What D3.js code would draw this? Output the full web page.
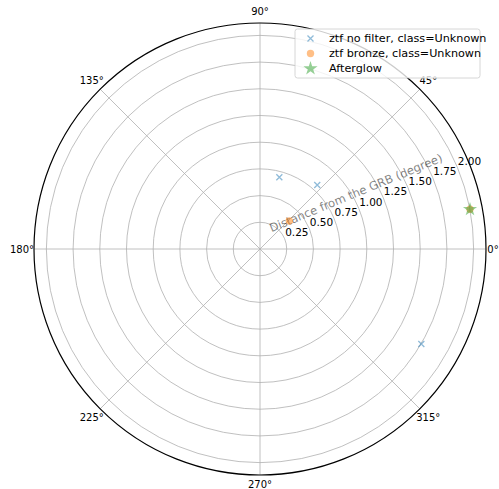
<!DOCTYPE html>
<html>
<head>
<meta charset="utf-8">
<script src="https://cdn.jsdelivr.net/npm/d3@7"></script>
<style>
  html, body { margin: 0; padding: 0; background: #fff; }
  svg { display: block; }
  text { font-family: "DejaVu Sans", sans-serif; }
</style>
</head>
<body>
<div id="chart"></div>
<script>
// ---- data ----
const noFilterTheta = [74.9, 48.2, 329.5];
const noFilterR = [0.695, 0.804, 1.753];
const bronzeTheta = [43.7, 10.7];
const bronzeR = [0.379, 2.001];
const afterglowTheta = [10.7];
const afterglowR = [2.001];
const radialTicks = [0.25, 0.5, 0.75, 1.0, 1.25, 1.5, 1.75, 2.0];
const angleTicks = [0, 45, 90, 135, 180, 225, 270, 315];
const legendLabels = ["ztf no filter, class=Unknown", "ztf bronze, class=Unknown", "Afterglow"];
const radialTitle = "Distance from the GRB (degree)";
const rMax = 2.116;

// ---- layout ----
const W = 499, H = 489;
const cx = 260, cy = 249, R = 226;

const svg = d3.select("#chart").append("svg").attr("width", W).attr("height", H);
const r = d3.scaleLinear().domain([0, rMax]).range([0, R]);
const toRad = d => d * Math.PI / 180;
const px = (t, rv) => cx + r(rv) * Math.cos(toRad(t));
const py = (t, rv) => cy - r(rv) * Math.sin(toRad(t));

const g = svg.append("g");
// ring grid
g.selectAll("circle.ring").data(radialTicks).enter().append("circle")
  .attr("cx", cx).attr("cy", cy).attr("r", d => r(d))
  .attr("fill", "none").attr("stroke", "#b0b0b0").attr("stroke-width", 0.8);
// angular grid
g.selectAll("line.spoke").data(angleTicks).enter().append("line")
  .attr("x1", cx).attr("y1", cy)
  .attr("x2", d => px(d, rMax)).attr("y2", d => py(d, rMax))
  .attr("stroke", "#b0b0b0").attr("stroke-width", 0.8);
// outer frame
g.append("circle").attr("cx", cx).attr("cy", cy).attr("r", R)
  .attr("fill", "none").attr("stroke", "#000").attr("stroke-width", 1.2);

// angle labels
const angOffset = d => (d === 0 ? 7 : d === 270 ? 9.5 : 12);
g.selectAll("text.ang").data(angleTicks).enter().append("text")
  .attr("x", d => cx + (R + angOffset(d)) * Math.cos(toRad(d)))
  .attr("y", d => cy - (R + angOffset(d)) * Math.sin(toRad(d)))
  .attr("text-anchor", "middle").attr("dominant-baseline", "central")
  .attr("font-size", "10px").attr("fill", "#000")
  .text(d => d + "°");

// radial labels at 22.5°
g.selectAll("text.rad").data(radialTicks).enter().append("text")
  .attr("x", d => px(22.5, d) + 0.5)
  .attr("y", d => py(22.5, d) - 2.5)
  .attr("text-anchor", "start")
  .attr("font-size", "10.5px").attr("fill", "#000")
  .text(d => d3.format(".2f")(d));

// radial title
const tAlong = 110, tOff = 15;
const tx = cx + tAlong * Math.cos(toRad(22.5)) - tOff * Math.sin(toRad(22.5));
const ty = cy - tAlong * Math.sin(toRad(22.5)) - tOff * Math.cos(toRad(22.5));
g.append("text")
  .attr("transform", `translate(${tx},${ty}) rotate(-22.5)`)
  .attr("text-anchor", "middle").attr("dominant-baseline", "central")
  .attr("font-size", "11.6px").attr("fill", "#000").attr("fill-opacity", 0.5)
  .text(radialTitle);

// markers
const blue = "#1f77b4", orange = "#ff7f0e", green = "#2ca02c";
const crossPath = s => `M${-s},${-s}L${s},${s}M${-s},${s}L${s},${-s}`;
const starSym = d3.symbol().type(d3.symbolStar).size(62);

const nf = noFilterTheta.map((t, i) => [t, noFilterR[i]]);
g.selectAll("path.nf").data(nf).enter().append("path")
  .attr("transform", d => `translate(${px(d[0], d[1])},${py(d[0], d[1])})`)
  .attr("d", crossPath(3))
  .attr("stroke", blue).attr("stroke-opacity", 0.5).attr("stroke-width", 1.3).attr("fill", "none");

const br = bronzeTheta.map((t, i) => [t, bronzeR[i]]);
g.selectAll("circle.br").data(br).enter().append("circle")
  .attr("cx", d => px(d[0], d[1])).attr("cy", d => py(d[0], d[1])).attr("r", 3.7)
  .attr("fill", orange).attr("fill-opacity", 0.5);

const ag = afterglowTheta.map((t, i) => [t, afterglowR[i]]);
g.selectAll("path.ag").data(ag).enter().append("path")
  .attr("transform", d => `translate(${px(d[0], d[1])},${py(d[0], d[1])})`)
  .attr("d", starSym)
  .attr("fill", green).attr("fill-opacity", 0.5);

// legend
const lg = svg.append("g").attr("transform", "translate(295,29)");
lg.append("rect").attr("x", 0).attr("y", 0).attr("width", 185).attr("height", 49)
  .attr("rx", 2.5).attr("fill", "#fff").attr("fill-opacity", 0.8)
  .attr("stroke", "#cccccc").attr("stroke-width", 0.8);
const rowsY = [9.5, 24.5, 39.5];
legendLabels.forEach((lab, i) => {
  const mx = 15.5, my = rowsY[i];
  if (i === 0) {
    lg.append("path").attr("transform", `translate(${mx},${my})`).attr("d", crossPath(3))
      .attr("stroke", blue).attr("stroke-opacity", 0.5).attr("stroke-width", 1.3).attr("fill", "none");
  } else if (i === 1) {
    lg.append("circle").attr("cx", mx).attr("cy", my).attr("r", 3.7)
      .attr("fill", orange).attr("fill-opacity", 0.5);
  } else {
    lg.append("path").attr("transform", `translate(${mx},${my})`).attr("d", starSym)
      .attr("fill", green).attr("fill-opacity", 0.5);
  }
  lg.append("text").attr("x", 34).attr("y", my).attr("dominant-baseline", "central")
    .attr("font-size", "11.2px").attr("fill", "#000").text(lab);
});
</script>
</body>
</html>
